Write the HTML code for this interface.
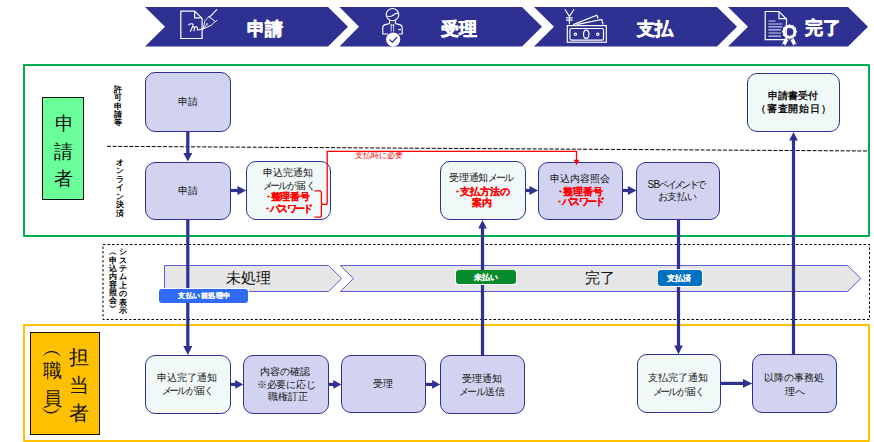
<!DOCTYPE html>
<html lang="ja">
<head>
<meta charset="utf-8">
<style>
*{margin:0;padding:0;box-sizing:border-box;}
html,body{width:874px;height:442px;overflow:hidden;background:#fff;}
body{position:relative;font-family:"Liberation Sans",sans-serif;color:#222;}
svg{position:absolute;left:0;top:0;}
.b{position:absolute;border:1.2px solid #2E3192;border-radius:10px;}
.lav{background:#D1D3F0;}
.lt{background:#F1F8F8;}
.ln{position:absolute;white-space:nowrap;line-height:1;}
.badge{position:absolute;border-radius:3px;}
</style>
</head>
<body>
<svg width="874" height="442" viewBox="0 0 874 442">
  <!-- header chevrons -->
  <g fill="#2E3191">
    <polygon points="145,7 328,7 348,26.75 328,46.5 145,46.5 165,26.75"/>
    <polygon points="339.5,7 522,7 542,26.75 522,46.5 339.5,46.5 359,26.75"/>
    <polygon points="534,7 717,7 737,26.75 717,46.5 534,46.5 554,26.75"/>
    <polygon points="728,7 848,7 868,26.75 848,46.5 728,46.5 748,26.75"/>
  </g>
  <!-- icon 1: document + pen -->
  <g fill="none" stroke="#fff" stroke-width="1.2" stroke-linejoin="miter">
    <path d="M180.8,11.1 H194.6 L202.1,18.4 V38.5 H180.8 Z"/>
    <path d="M194.6,11.1 V17.9 H202.1"/>
    <path d="M188.6,24.9 C190,23.6 193.4,23.2 193,25 C192.6,27 191.2,29.6 190.4,31.4 M191.2,29.2 C192.2,27.4 193.6,25.8 194.2,26.8 C194.6,27.6 194.1,29.6 193.9,30.8 M194.3,28.6 C195.2,27.2 196.6,25.9 197.2,27.2 C197.5,28 197,29.6 197.6,30 C198.6,30.4 201,29.2 203.4,28.6" stroke-width="1.1" stroke-linecap="round"/>
    <path d="M208.7,17 C206.8,18.6 205.2,20 204.7,21.6 C204.1,24 203.7,26.6 203.4,28.8 C205.6,27.8 208.6,26.6 211.1,25.3 C212.8,24 214.2,22.6 215.4,21.3" stroke-width="1"/>
    <path d="M203.4,28.8 L206.6,24.6" stroke-width="0.9"/>
    <circle cx="207.1" cy="24.1" r="0.7" stroke-width="0.7"/>
    <path d="M208.3,16.4 L215.6,21.6 L217.2,19.9" stroke-width="1"/>
    <path d="M209.6,17.1 L216.9,9.3" stroke-width="1.1"/>
  </g>
  <!-- icon 2: person with check -->
  <g fill="none" stroke="#fff" stroke-width="1.1">
    <ellipse cx="392.5" cy="14.6" rx="6.3" ry="6.1"/>
    <path d="M386.4,15.6 C388.6,16.9 391,16.8 393,15.2 C394.8,13.7 396.8,12.7 398.8,13.3"/>
    <path d="M389.6,20 L389.6,23.6 L385.2,24.6 C383.5,25 382.8,26.2 382.8,27.8 L382.8,34 L388,34"/>
    <path d="M395.4,20 L395.4,23.6 L399.5,24.6 C401.3,25 402.2,26.2 402.2,27.8 L402.2,34 L398.5,34"/>
    <path d="M391.2,24 V31.5 M393.6,24 V31.5 M390.6,25.2 H394.2" stroke-width="0.8"/>
    <path d="M398.2,29.6 H401" stroke-width="1.2"/>
  </g>
  <circle cx="393.2" cy="39.6" r="7.1" fill="#fff"/>
  <path d="M389.6,39.6 L392.3,42.2 L397,37.2" fill="none" stroke="#2E3191" stroke-width="1.3"/>
  <!-- icon 3: money -->
  <g fill="none" stroke="#fff" stroke-width="1.2">
    <path d="M564.8,9.2 L569.4,16.4 L574.1,9.2 M569.4,16.4 V24.2 M566.1,17.9 H572.7 M566.1,20.1 H572.7" stroke-width="1.1"/>
    <path d="M573.2,24.6 L596.8,15.2 L598.2,18.6"/>
    <path d="M576.5,24.6 L601.8,19.5 L603,24.6"/>
    <rect x="567.3" y="25.6" width="39" height="16.6"/>
    <rect x="569.9" y="28.5" width="33.6" height="11.6" rx="1.6"/>
    <ellipse cx="586.2" cy="34.3" rx="2.7" ry="4.1"/>
    <circle cx="575.4" cy="34.3" r="1.2"/>
    <circle cx="597.8" cy="34.3" r="1.2"/>
  </g>
  <!-- icon 4: certificate -->
  <g fill="none" stroke="#fff" stroke-width="1.2">
    <path d="M765.2,11.5 H779 L786.5,19 V39.6 H765.2 Z"/>
    <path d="M779,11.5 V18.7 H786.5"/>
  </g>
  <g stroke="#C8C9EA" stroke-width="1.1">
    <path d="M768.4,21 H775.6 M768.4,24 H782.5 M768.4,26.9 H782.5 M768.4,29.9 H781 M768.4,33 H781 M768.4,36.1 H781"/>
  </g>
  <path d="M781.5,45.6 L784.8,38.2 L788.4,40 L785.2,45.8 L783.5,43.6 Z" fill="#fff"/>
  <path d="M797,45.6 L793.8,38.2 L790.4,40 L793.4,45.8 L795.2,43.6 Z" fill="#fff"/>
  <g fill="#fff"><circle cx="789.5" cy="31.8" r="7"/><circle cx="796.40" cy="31.80" r="0.75"/><circle cx="795.48" cy="35.25" r="0.75"/><circle cx="792.95" cy="37.78" r="0.75"/><circle cx="789.50" cy="38.70" r="0.75"/><circle cx="786.05" cy="37.78" r="0.75"/><circle cx="783.52" cy="35.25" r="0.75"/><circle cx="782.60" cy="31.80" r="0.75"/><circle cx="783.52" cy="28.35" r="0.75"/><circle cx="786.05" cy="25.82" r="0.75"/><circle cx="789.50" cy="24.90" r="0.75"/><circle cx="792.95" cy="25.82" r="0.75"/><circle cx="795.48" cy="28.35" r="0.75"/></g>
  <circle cx="789.5" cy="31.8" r="3.9" fill="#2E3191"/>
  <path d="M786.5,28 V35.6" stroke="#fff" stroke-width="1.1"/>

  <!-- green box -->
  <rect x="24" y="65" width="845" height="171" fill="none" stroke="#00B050" stroke-width="2" stroke-linejoin="round"/>
  <!-- orange box -->
  <rect x="24" y="325" width="845" height="116" fill="none" stroke="#FFC000" stroke-width="2" stroke-linejoin="round"/>
  <!-- dashed separator -->
  <line x1="107" y1="146.3" x2="869" y2="151" stroke="#000" stroke-width="1" stroke-dasharray="4,1.6"/>
  <!-- dotted system box -->
  <rect x="103" y="244.5" width="766.5" height="75" fill="none" stroke="#000" stroke-width="1" stroke-dasharray="2.5,2"/>
  <!-- gray pentagons -->
  <polygon points="164.5,265.5 328.6,265.5 341.7,278.5 328.6,291.5 164.5,291.5" fill="#E6E6E6" stroke="#5C5CD6" stroke-width="1"/>
  <polygon points="340.2,265.5 847.5,265.5 860.8,278.5 847.5,291.5 340.2,291.5 353.6,278.5" fill="#E6E6E6" stroke="#5C5CD6" stroke-width="1"/>
  <!-- navy connector lines -->
  <g stroke="#2E3192" stroke-width="3.2" fill="none">
    <line x1="187.8" y1="132" x2="187.8" y2="154"/>
    <line x1="187.8" y1="219.5" x2="187.8" y2="347"/>
    <line x1="482.5" y1="228" x2="482.5" y2="355"/>
    <line x1="678.5" y1="220" x2="678.5" y2="346"/>
    <line x1="793.5" y1="140" x2="793.5" y2="354.5"/>
    <line x1="230.5" y1="190.5" x2="238.5" y2="190.5"/>
    <line x1="526" y1="190.5" x2="530.5" y2="190.5"/>
    <line x1="623" y1="190.5" x2="629" y2="190.5"/>
    <line x1="230.7" y1="384.4" x2="236" y2="384.4"/>
    <line x1="328.7" y1="384.4" x2="334" y2="384.4"/>
    <line x1="426" y1="384.4" x2="433" y2="384.4"/>
    <line x1="720.6" y1="383.4" x2="744" y2="383.4"/>
  </g>
  <g fill="#2E3192">
    <polygon points="183.3,153 192.3,153 187.8,161.5"/>
    <polygon points="183.3,346 192.3,346 187.8,355"/>
    <polygon points="478.2,228.6 486.8,228.6 482.5,220"/>
    <polygon points="674.2,345.5 682.8,345.5 678.5,354.3"/>
    <polygon points="789.2,140.5 797.8,140.5 793.5,132"/>
    <polygon points="237.4,186.1 237.4,194.9 246.2,190.5"/>
    <polygon points="529.4,186.1 529.4,194.9 538.1,190.5"/>
    <polygon points="627.8,186.1 627.8,194.9 636.5,190.5"/>
    <polygon points="235.2,380 235.2,388.8 243.2,384.4"/>
    <polygon points="333.3,380 333.3,388.8 341.4,384.4"/>
    <polygon points="432.1,380 432.1,388.8 440.2,384.4"/>
    <polygon points="743,379 743,387.8 752.3,383.4"/>
  </g>
</svg>

<div class="static" style="position:absolute;left:42px;top:97px;width:42px;height:103px;background:#6AFF98;border:1px solid #111;"></div>
<div class="static" style="position:absolute;left:30px;top:332px;width:70px;height:103px;background:#FFC000;border:1px solid #111;"></div>
<div class="b lav static" style="left:145px;top:72px;width:86px;height:60px;"></div>
<div class="b lav static" style="left:145px;top:161.5px;width:85.5px;height:58.3px;"></div>
<div class="b lt static" style="left:246.2px;top:161.3px;width:84.6px;height:58.3px;"></div>
<div class="b lt static" style="left:440px;top:161.2px;width:85.8px;height:58.5px;"></div>
<div class="b lav static" style="left:538px;top:162.4px;width:85.3px;height:58px;"></div>
<div class="b lav static" style="left:636.4px;top:162.3px;width:84.1px;height:57.9px;"></div>
<div class="b lt static" style="left:746.9px;top:72.5px;width:93px;height:59.5px;"></div>
<div class="b lt static" style="left:145px;top:355.2px;width:85.7px;height:58.4px;"></div>
<div class="b lav static" style="left:243.1px;top:355.1px;width:85.6px;height:58.9px;"></div>
<div class="b lav static" style="left:341.3px;top:354.6px;width:84.6px;height:58.4px;"></div>
<div class="b lav static" style="left:440.1px;top:355.2px;width:85.2px;height:58.6px;"></div>
<div class="b lt static" style="left:636.5px;top:354.2px;width:84.3px;height:58.6px;"></div>
<div class="b lav static" style="left:752.2px;top:354.2px;width:84.8px;height:58.6px;"></div>
<svg width="874" height="442" viewBox="0 0 874 442" style="pointer-events:none">
  <polyline points="327.2,204.3 327.2,151.4 576.5,151.4 576.5,160.5" fill="none" stroke="#FF0000" stroke-width="1.3"/>
  <polygon points="573.7,159.8 579.3,159.8 576.5,165.3" fill="#FF0000"/>
  <path d="M314.4,190.9 H319.5 Q321.4,190.9 321.4,192.8 V202.3 Q321.4,204.3 323.2,204.3 H327.2 M323.2,204.3 Q321.4,204.3 321.4,206.3 V215.2 Q321.4,217.1 319.5,217.1 H314.4" fill="none" stroke="#FF0000" stroke-width="1.3"/>
</svg>

<div class="static" style="position:absolute;left:158px;top:288px;width:90.5px;height:15.4px;background:#fff;"></div>
<div class="badge static" style="left:158.6px;top:288.8px;width:89.3px;height:13.9px;background:#2F6BF5;"></div>
<div class="static" style="position:absolute;left:455px;top:269.6px;width:62px;height:15.4px;background:#fff;"></div>
<div class="badge static" style="left:455.8px;top:270.3px;width:60.5px;height:13.8px;background:#078A2A;"></div>
<div class="static" style="position:absolute;left:657.8px;top:268.9px;width:45px;height:17.8px;background:#fff;"></div>
<div class="badge static" style="left:658.4px;top:269.7px;width:43.9px;height:16.5px;background:#0070C0;"></div>
<div class="ln" style="left:247.03px;top:19.55px;font-size:18px;color:#FFFFFF;font-weight:bold;-webkit-text-stroke:0.6px #FFFFFF;">申請</div>
<div class="ln" style="left:440.98px;top:19.70px;font-size:18px;color:#FFFFFF;font-weight:bold;-webkit-text-stroke:0.6px #FFFFFF;">受理</div>
<div class="ln" style="left:636.71px;top:19.70px;font-size:18px;color:#FFFFFF;font-weight:bold;-webkit-text-stroke:0.6px #FFFFFF;">支払</div>
<div class="ln" style="left:805.30px;top:19.20px;font-size:18px;color:#FFFFFF;font-weight:bold;-webkit-text-stroke:0.6px #FFFFFF;">完了</div>
<div class="ln" style="left:54.65px;top:114.45px;font-size:19px;color:#111;">申</div>
<div class="ln" style="left:54.15px;top:141.75px;font-size:19px;color:#111;">請</div>
<div class="ln" style="left:53.65px;top:168.60px;font-size:19px;color:#111;">者</div>
<div class="ln" style="left:69.45px;top:346.65px;font-size:20px;color:#111;">担</div>
<div class="ln" style="left:69.45px;top:374.65px;font-size:20px;color:#111;">当</div>
<div class="ln" style="left:68.95px;top:402.90px;font-size:20px;color:#111;">者</div>
<div class="ln" style="left:43.45px;top:362.25px;font-size:18.5px;color:#111;">職</div>
<div class="ln" style="left:42.95px;top:390.00px;font-size:18.5px;color:#111;">員</div>
<div class="ln" style="left:41.65px;top:338.55px;font-size:21px;color:#111;">︵</div>
<div class="ln" style="left:41.15px;top:402.40px;font-size:21px;color:#111;">︶</div>
<div class="ln" style="left:114.00px;top:84.80px;font-size:8.3px;line-height:8.39px;text-align:center;color:#000;font-weight:bold;">許<br>可<br>申<br>請<br>等</div>
<div class="ln" style="left:115.50px;top:157.90px;font-size:8.3px;line-height:8.50px;text-align:center;color:#000;font-weight:bold;">オ<br>ン<br>ラ<br>イ<br>ン<br>決<br>済</div>
<div class="ln" style="left:118.95px;top:247.08px;font-size:8.3px;line-height:8.46px;text-align:center;color:#000;font-weight:bold;">シ<br>ス<br>テ<br>ム<br>上<br>の<br>表<br>示</div>
<div class="ln" style="left:108.70px;top:248.92px;font-size:8.3px;line-height:7.94px;text-align:center;color:#000;font-weight:bold;">︵<br>申<br>込<br>内<br>容<br>照<br>会<br>︶</div>
<div class="ln" style="left:177.61px;top:97.05px;font-size:10px;color:#141414;">申請</div>
<div class="ln" style="left:177.66px;top:186.20px;font-size:10px;color:#141414;">申請</div>
<div class="ln" style="left:262.89px;top:167.75px;font-size:10px;color:#141414;">申込完通知</div>
<div class="ln" style="left:262.93px;top:180.65px;font-size:10px;color:#141414;"><span style="letter-spacing:-2.43px">メー</span><span style="letter-spacing:-0.97px">ル</span><span style="letter-spacing:-0.73px">が届く</span></div>
<div class="ln" style="left:265.74px;top:191.85px;font-size:9.6px;color:#FF0000;font-weight:bold;-webkit-text-stroke:0.12px #FF0000;">･<span style="letter-spacing:-0.27px">整理番号</span></div>
<div class="ln" style="left:265.17px;top:203.65px;font-size:9.6px;color:#FF0000;font-weight:bold;-webkit-text-stroke:0.12px #FF0000;">･<span style="letter-spacing:-1.69px">パスワード</span></div>
<div class="ln" style="left:449.42px;top:173.40px;font-size:10px;color:#141414;"><span style="letter-spacing:-0.40px">受理通知</span><span style="letter-spacing:-1.98px">メー</span><span style="letter-spacing:-1.98px">ル</span></div>
<div class="ln" style="left:455.05px;top:186.90px;font-size:9.6px;color:#FF0000;font-weight:bold;-webkit-text-stroke:0.12px #FF0000;">･<span style="letter-spacing:-0.11px">支払方法の</span></div>
<div class="ln" style="left:472.11px;top:198.30px;font-size:9.6px;color:#FF0000;font-weight:bold;-webkit-text-stroke:0.12px #FF0000;">案内</div>
<div class="ln" style="left:550.15px;top:174.40px;font-size:10px;color:#141414;">申込内容照会</div>
<div class="ln" style="left:557.82px;top:186.75px;font-size:9.6px;color:#FF0000;font-weight:bold;-webkit-text-stroke:0.12px #FF0000;">･<span style="letter-spacing:0.09px">整理番号</span></div>
<div class="ln" style="left:557.26px;top:197.05px;font-size:9.6px;color:#FF0000;font-weight:bold;-webkit-text-stroke:0.12px #FF0000;">･<span style="letter-spacing:-1.76px">パスワード</span></div>
<div class="ln" style="left:647.58px;top:179.50px;font-size:10px;color:#141414;"><span style="letter-spacing:-0.79px">SB</span><span style="letter-spacing:-2.62px">ペイメント</span><span style="letter-spacing:-1.31px">で</span></div>
<div class="ln" style="left:657.83px;top:191.90px;font-size:10px;color:#141414;"><span style="letter-spacing:-0.67px">お</span><span style="letter-spacing:-0.20px">支払</span><span style="letter-spacing:-0.67px">い</span></div>
<div class="ln" style="left:768.02px;top:90.55px;font-size:10px;color:#111;font-weight:bold;">申請書受付</div>
<div class="ln" style="left:756.24px;top:103.95px;font-size:10px;letter-spacing:0.72px;color:#111;font-weight:bold;">（審査開始日）</div>
<div class="ln" style="left:354.52px;top:152.15px;font-size:8px;color:#FF0000;">支払時に必要</div>
<div class="ln" style="left:226.06px;top:269.65px;font-size:15px;color:#111;">未処理</div>
<div class="ln" style="left:585.04px;top:269.85px;font-size:15px;color:#111;">完了</div>
<div class="ln" style="left:178.22px;top:292.35px;font-size:7.2px;letter-spacing:0.46px;color:#FFFFFF;font-weight:bold;-webkit-text-stroke:0.12px #FFFFFF;">支払い前処理中</div>
<div class="ln" style="left:473.92px;top:274.00px;font-size:7.5px;color:#FFFFFF;font-weight:bold;-webkit-text-stroke:0.12px #FFFFFF;">未払い</div>
<div class="ln" style="left:666.71px;top:275.00px;font-size:7.5px;color:#FFFFFF;font-weight:bold;-webkit-text-stroke:0.12px #FFFFFF;">支払済</div>
<div class="ln" style="left:157.12px;top:373.25px;font-size:10px;color:#141414;">申込完了通知</div>
<div class="ln" style="left:162.08px;top:386.15px;font-size:10px;color:#141414;"><span style="letter-spacing:-2.66px">メー</span><span style="letter-spacing:-1.06px">ル</span><span style="letter-spacing:-0.80px">が届く</span></div>
<div class="ln" style="left:260.00px;top:367.35px;font-size:10px;color:#141414;">内容の確認</div>
<div class="ln" style="left:256.79px;top:379.65px;font-size:10px;letter-spacing:-0.24px;color:#141414;">※必要に応じ</div>
<div class="ln" style="left:268.28px;top:392.20px;font-size:10px;color:#141414;">職権訂正</div>
<div class="ln" style="left:372.70px;top:379.10px;font-size:10px;color:#141414;">受理</div>
<div class="ln" style="left:461.76px;top:374.05px;font-size:10px;color:#141414;">受理通知</div>
<div class="ln" style="left:458.58px;top:386.80px;font-size:10px;color:#141414;"><span style="letter-spacing:-1.29px">メー</span><span style="letter-spacing:-0.52px">ル</span><span style="letter-spacing:-0.26px">送信</span></div>
<div class="ln" style="left:647.53px;top:373.35px;font-size:10px;color:#141414;">支払完了通知</div>
<div class="ln" style="left:653.06px;top:386.50px;font-size:10px;color:#141414;"><span style="letter-spacing:-2.62px">メー</span><span style="letter-spacing:-1.05px">ル</span><span style="letter-spacing:-0.79px">が届く</span></div>
<div class="ln" style="left:763.98px;top:373.35px;font-size:10px;color:#141414;">以降の事務処</div>
<div class="ln" style="left:784.51px;top:386.50px;font-size:10px;color:#141414;">理へ</div>
</body>
</html>
